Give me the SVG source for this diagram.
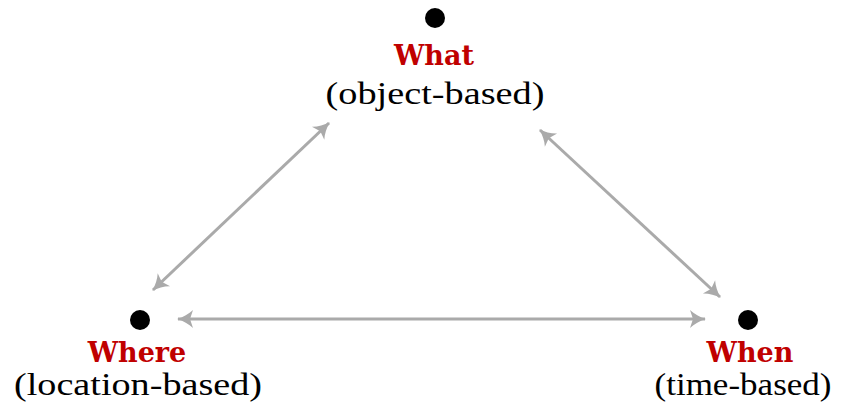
<svg xmlns="http://www.w3.org/2000/svg" width="848" height="409" viewBox="0 0 848 409">
<style>
.dot{fill:#000}
.title{font-family:"DejaVu Serif","Liberation Serif",serif;font-weight:bold;font-size:27px;fill:#c00000;text-anchor:middle}
.sub{font-family:"Liberation Serif","DejaVu Serif",serif;font-size:32px;fill:#000;text-anchor:middle}
.conn{stroke:#aaaaaa;stroke-width:3;fill:none;marker-start:url(#ah);marker-end:url(#ah)}
</style>
<defs>
<marker id="ah" markerUnits="userSpaceOnUse" viewBox="-18 -10 20 20" refX="0" refY="0" markerWidth="20" markerHeight="20" orient="auto-start-reverse">
<path d="M1,0 C-5,-1.8 -11,-5 -15,-9 L-12,0 L-15,9 C-11,5 -5,1.8 1,0 Z" fill="#aaaaaa"/>
</marker>
</defs>
<g id="connectors">
<line class="conn" x1="329" y1="123" x2="153" y2="290"/>
<line class="conn" x1="540" y1="130" x2="720" y2="297"/>
<line class="conn" x1="178" y1="319" x2="705" y2="319"/>
</g>
<g id="what">
<circle class="dot" cx="435" cy="18" r="10"/>
<text class="title" x="434" y="65">What</text>
<text class="sub" x="435" y="104" textLength="219" lengthAdjust="spacingAndGlyphs">(object-based)</text>
</g>
<g id="where">
<circle class="dot" cx="140" cy="320" r="10"/>
<text class="title" x="137" y="362">Where</text>
<text class="sub" x="138" y="395" textLength="248" lengthAdjust="spacingAndGlyphs">(location-based)</text>
</g>
<g id="when">
<circle class="dot" cx="748" cy="320" r="10"/>
<text class="title" x="750" y="362">When</text>
<text class="sub" x="743" y="395" textLength="177" lengthAdjust="spacingAndGlyphs">(time-based)</text>
</g>
</svg>
